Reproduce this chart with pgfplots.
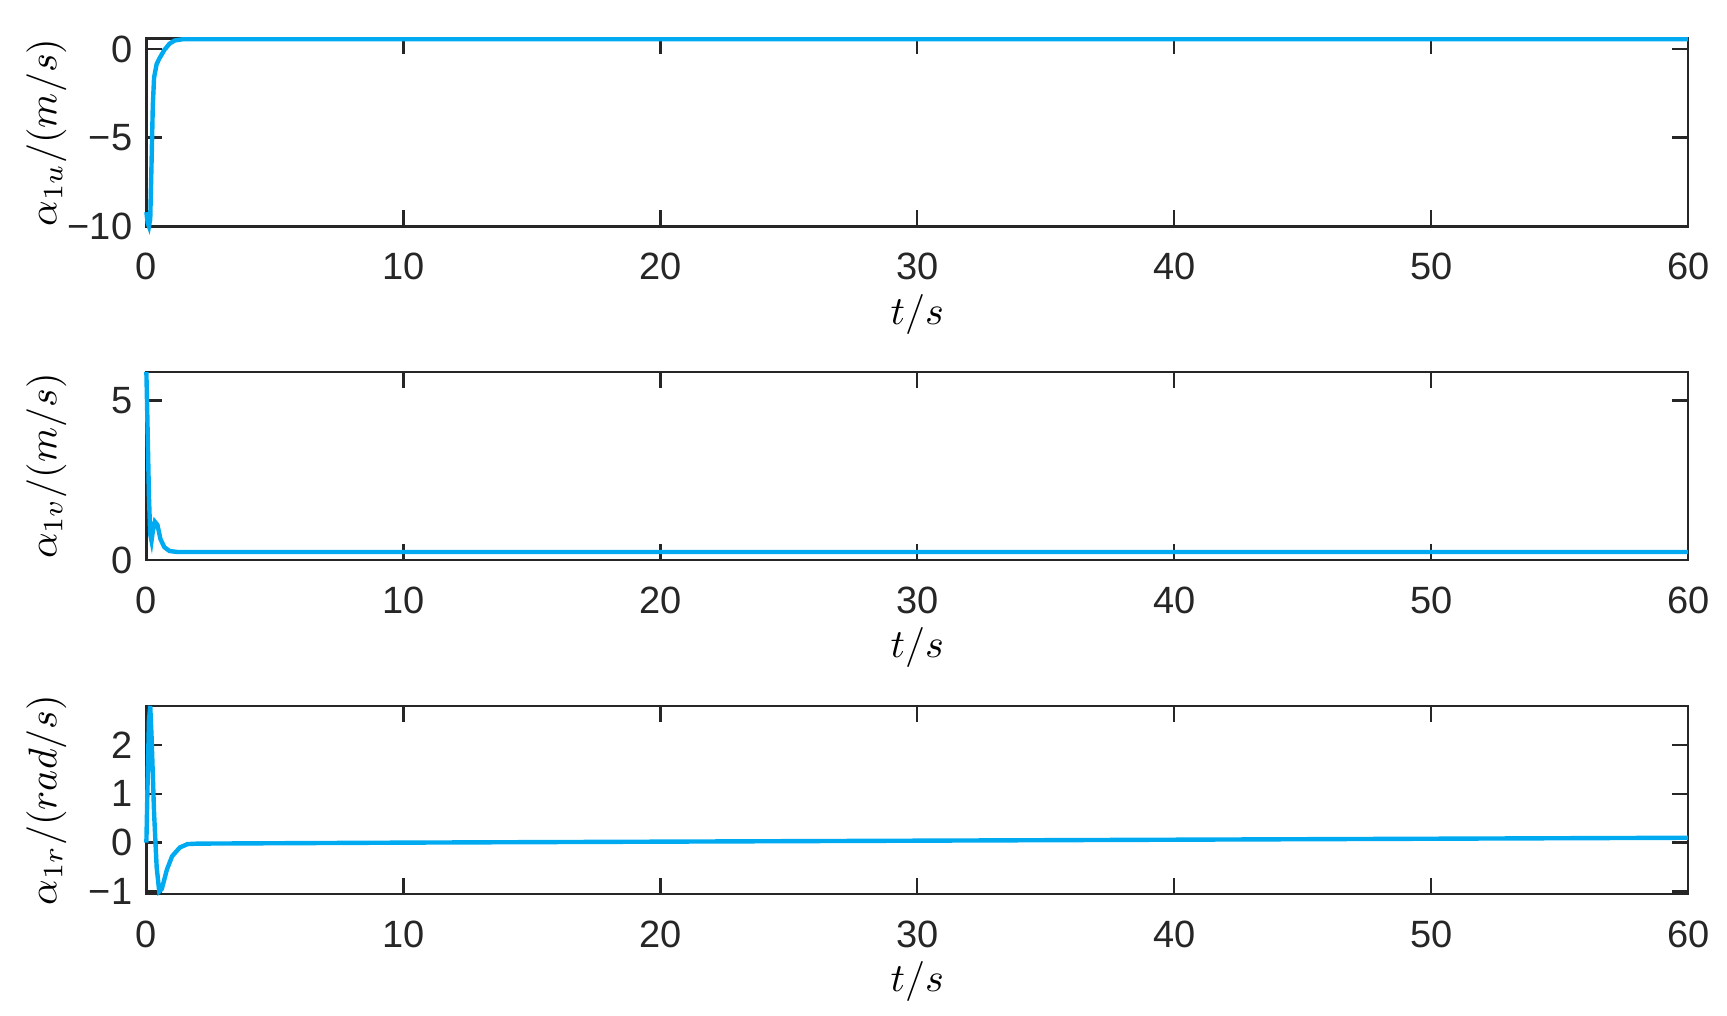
\documentclass[border=0pt]{standalone}
\usepackage{fontspec}
\setmainfont{Liberation Sans}
\usepackage{pgfplots}
\pgfplotsset{compat=1.18}
\definecolor{lineblue}{RGB}{0,170,240}
\definecolor{axgray}{RGB}{38,38,38}

\pgfplotsset{panel/.style={
    scale only axis,
    width=385.5pt, height=47pt,
    xmin=0, xmax=60, xtick={0,10,...,60},
    tick align=inside,
    xtick pos=both, ytick pos=both,
    xticklabel pos=lower, yticklabel pos=left,
    axis line style={axgray, line width=0.6pt},
    major tick style={axgray, line width=0.6pt},
    major tick length=4pt,
    ticklabel style={font=\fontsize{9.5}{11}\selectfont, text=axgray},
    xticklabel style={yshift=-3.2pt},
    /pgf/number format/assume math mode=true,
    xlabel={$t/s$},
    label style={font=\fontsize{11}{12}\selectfont, text=axgray},
    every axis x label/.style={at={(axis description cs:0.5,0)}, yshift=-22pt, anchor=center},
    every axis y label/.style={at={(axis description cs:0,0.5)}, xshift=-25pt, rotate=90, anchor=center},
    clip=false,
    every axis plot post/.append style={draw=lineblue, line width=1.1pt, mark=none},
}}

\begin{document}
\begin{tikzpicture}
\useasboundingbox (-36.6pt,9.6pt) rectangle (395.2pt,-244.2pt);

% alpha_1u
\begin{axis}[panel, at={(0pt,0pt)}, anchor=north west,
    ymin=-10, ymax=0.6, ytick={-10,-5,0}, yticklabels={−10,−5,0},
    ylabel={$\alpha_{1u}/(m/s)$}]
\addplot coordinates {
 (0,-9.2) (0.05,-9.8) (0.1,-10) (0.15,-9.6) (0.2,-6.5) (0.25,-3.2)
 (0.3,-1.6) (0.4,-0.85) (0.5,-0.55) (0.7,-0.05) (0.9,0.3) (1.1,0.48)
 (1.4,0.55) (2,0.55) (60,0.55)
};
\end{axis}

% alpha_1v
\begin{axis}[panel, at={(0pt,-83.4pt)}, anchor=north west,
    ymin=0, ymax=5.9, ytick={0,5},
    ylabel={$\alpha_{1v}/(m/s)$}]
\addplot coordinates {
 (0,5.9) (0.05,4.0) (0.1,2.0) (0.15,0.8) (0.2,0.6) (0.25,0.9)
 (0.33,1.2) (0.43,1.1) (0.55,0.65) (0.7,0.4) (0.9,0.28) (1.2,0.25)
 (2,0.25) (60,0.25)
};
\end{axis}

% alpha_1r
\begin{axis}[panel, at={(0pt,-166.9pt)}, anchor=north west,
    ymin=-1.05, ymax=2.8, ytick={-1,0,1,2}, yticklabels={−1,0,1,2},
    ylabel={$\alpha_{1r}/(rad/s)$}]
\addplot coordinates {
 (0,0) (0.05,1.3) (0.1,2.5) (0.15,2.8) (0.2,2.2) (0.3,0.6)
 (0.4,-0.5) (0.5,-1.0) (0.6,-0.95) (0.8,-0.55) (1.0,-0.28) (1.3,-0.1)
 (1.6,-0.03) (2,-0.02) (10,0.0) (30,0.04) (60,0.1)
};
\end{axis}
\end{tikzpicture}
\end{document}
